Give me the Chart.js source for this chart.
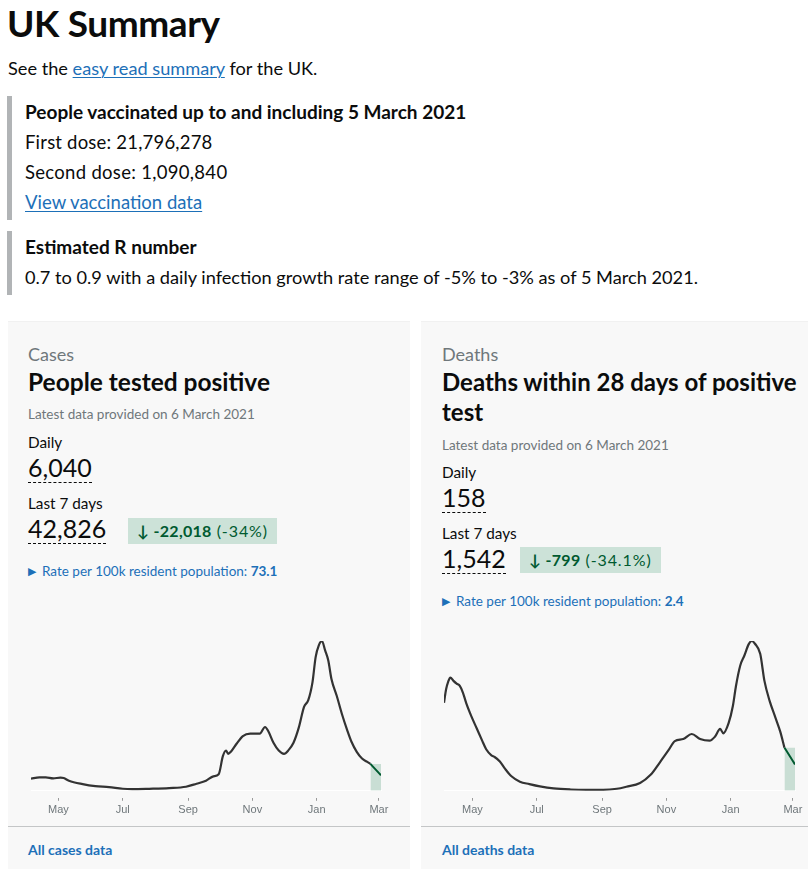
<!DOCTYPE html>
<html>
<head>
<meta charset="utf-8">
<script src="https://cdn.jsdelivr.net/npm/chart.js@4.4.0/dist/chart.umd.min.js"></script>
<style>
  html, body { margin:0; padding:0; background:#ffffff; width:808px; height:869px; overflow:hidden; }
  body { position:relative; font-family: "Lato", "Noto Sans", sans-serif; color:#0b0c0c; }
  .a { position:absolute; white-space:nowrap; }
  .bar { position:absolute; background:#b1b4b6; width:5px; }
  .card { position:absolute; top:321px; height:560px; background:#f8f8f8; border-top:1px solid #f1f1f1; }
  .sep { position:absolute; top:826px; height:1px; background:#c4c6c7; }
  .link { color:#1d70b8; text-decoration:underline; text-underline-offset:2px; text-decoration-thickness:1px; }
  .cap { font-size:18px; line-height:24px; color:#6f777b; }
  .ttl { font-size:24px; line-height:30px; font-weight:700; }
  .lat { font-size:13.5px; line-height:18px; color:#6f777b; }
  .lbl { font-size:15.3px; line-height:20px; }
  .num { font-size:25px; line-height:28px; padding-bottom:1px; border-bottom:1px dashed #0b0c0c; }
  .badge { position:absolute; background:#cce2d8; color:#005a30; font-size:16px; line-height:26px; height:26px; padding:0 9px; white-space:nowrap; letter-spacing:0.9px; }
  .badge b { font-weight:700; letter-spacing:0.3px; }
  .rate { font-size:13.5px; line-height:18px; color:#1d70b8; }
  .rate .tri { font-size:11px; margin-right:6px; position:relative; top:-1px; }
  .all { font-size:14px; line-height:18px; font-weight:700; color:#1d70b8; }
  canvas { position:absolute; }
</style>
</head>
<body>
  <div class="a" style="left:7px; top:1px; font-size:37px; line-height:44px; font-weight:700; letter-spacing:-0.4px;">UK Summary</div>
  <div class="a" style="left:8px; top:56px; font-size:18.2px; line-height:24px;">See the <span class="link">easy read summary</span> for the UK.</div>

  <div class="bar" style="left:7px; top:96px; height:124px;"></div>
  <div class="a" style="left:25px; top:100px; font-size:19px; line-height:24px; font-weight:700;">People vaccinated up to and including 5 March 2021</div>
  <div class="a" style="left:25px; top:130px; font-size:18.5px; line-height:24px; letter-spacing:0.2px;">First dose: 21,796,278</div>
  <div class="a" style="left:25px; top:160px; font-size:18.5px; line-height:24px; letter-spacing:0.3px;">Second dose: 1,090,840</div>
  <div class="a link" style="left:25px; top:190px; font-size:18.5px; line-height:24px;">View vaccination data</div>

  <div class="bar" style="left:7px; top:231px; height:64px;"></div>
  <div class="a" style="left:25px; top:235px; font-size:19px; line-height:24px; font-weight:700;">Estimated R number</div>
  <div class="a" style="left:25px; top:265px; font-size:18.2px; line-height:24px;">0.7 to 0.9 with a daily infection growth rate range of -5% to -3% as of 5 March 2021.</div>

  <!-- Cases card -->
  <div class="card" style="left:8px; width:402px;"></div>
  <div class="a cap" style="left:28px; top:342px;">Cases</div>
  <div class="a ttl" style="left:28px; top:367px; font-size:24.5px;">People tested positive</div>
  <div class="a lat" style="left:28px; top:405px;">Latest data provided on 6 March 2021</div>
  <div class="a lbl" style="left:28px; top:432px;">Daily</div>
  <div class="a num" style="left:28px; top:453px;">6,040</div>
  <div class="a lbl" style="left:28px; top:493px;">Last 7 days</div>
  <div class="a num" style="left:28px; top:514px;">42,826</div>
  <div class="badge" style="left:128px; top:518px;"><b>↓ -22,018</b> (-34%)</div>
  <div class="a rate" style="left:28px; top:562px;"><span class="tri">▶</span>Rate per 100k resident population: <b>73.1</b></div>
  <canvas id="casesChart" width="402" height="200" style="left:8px; top:620px; width:402px; height:200px;"></canvas>
  <div class="sep" style="left:8px; width:402px;"></div>
  <div class="a all" style="left:28px; top:841px;">All cases data</div>

  <!-- Deaths card -->
  <div class="card" style="left:421px; width:400px;"></div>
  <div class="a cap" style="left:442px; top:342px;">Deaths</div>
  <div class="a ttl" style="left:442px; top:367px;">Deaths within 28 days of positive<br>test</div>
  <div class="a lat" style="left:442px; top:436px;">Latest data provided on 6 March 2021</div>
  <div class="a lbl" style="left:442px; top:462px;">Daily</div>
  <div class="a num" style="left:442px; top:483px;">158</div>
  <div class="a lbl" style="left:442px; top:523px;">Last 7 days</div>
  <div class="a num" style="left:442px; top:544px;">1,542</div>
  <div class="badge" style="left:520px; top:547px;"><b>↓ -799</b> (-34.1%)</div>
  <div class="a rate" style="left:442px; top:592px;"><span class="tri">▶</span>Rate per 100k resident population: <b>2.4</b></div>
  <canvas id="deathsChart" width="387" height="200" style="left:421px; top:620px; width:387px; height:200px;"></canvas>
  <div class="sep" style="left:421px; width:400px;"></div>
  <div class="a all" style="left:442px; top:841px;">All deaths data</div>

<script>
// ---- Data (7-day averages) ----
const tickDates  = ["2020-05-01","2020-07-01","2020-09-01","2020-11-01","2021-01-01","2021-03-01"];
const tickLabels = ["May","Jul","Sep","Nov","Jan","Mar"];

const casesDates = ["2020-04-05","2020-04-13","2020-04-19","2020-04-26","2020-05-03","2020-05-06","2020-05-11","2020-05-24","2020-06-05","2020-06-18","2020-07-01","2020-07-10","2020-07-26","2020-08-14","2020-08-30","2020-09-09","2020-09-18","2020-09-25","2020-09-30","2020-10-04","2020-10-07","2020-10-09","2020-10-12","2020-10-17","2020-10-23","2020-10-30","2020-11-08","2020-11-13","2020-11-16","2020-11-21","2020-11-26","2020-12-01","2020-12-05","2020-12-10","2020-12-15","2020-12-20","2020-12-24","2020-12-28","2020-12-31","2021-01-03","2021-01-06","2021-01-09","2021-01-12","2021-01-15","2021-01-20","2021-01-25","2021-01-30","2021-02-03","2021-02-08","2021-02-13","2021-02-18","2021-02-21","2021-02-26","2021-03-03"];
const casesValues = [4840,5380,5380,4980,5250,5110,4040,2690,1880,1480,810,670,810,1080,1610,2830,4040,5790,6590,13860,16140,14800,15870,18830,21930,22870,22870,25560,23950,19240,16140,14800,16140,19240,25290,33630,36320,43450,53540,58250,60000,56230,52200,44800,38070,30670,24220,19640,15610,12920,11570,10760,8480,6190];
const casesIncompleteFrom = "2021-02-21";

const deathsDates = ["2020-04-04","2020-04-06","2020-04-08","2020-04-10","2020-04-13","2020-04-16","2020-04-19","2020-04-22","2020-04-25","2020-04-30","2020-05-05","2020-05-10","2020-05-14","2020-05-19","2020-05-22","2020-05-27","2020-06-01","2020-06-07","2020-06-15","2020-06-24","2020-07-04","2020-07-17","2020-08-02","2020-08-17","2020-09-02","2020-09-15","2020-09-24","2020-10-07","2020-10-17","2020-10-26","2020-11-03","2020-11-09","2020-11-17","2020-11-25","2020-12-03","2020-12-12","2020-12-17","2020-12-22","2020-12-25","2020-12-30","2021-01-03","2021-01-06","2021-01-10","2021-01-14","2021-01-18","2021-01-21","2021-01-24","2021-01-29","2021-02-02","2021-02-07","2021-02-12","2021-02-17","2021-02-21","2021-02-26","2021-03-03"];
const deathsValues = [734,847,911,945,917,894,875,818,734,621,522,423,347,296,282,245,183,121,76,56,37,20,11,8,8,17,34,65,133,240,339,415,432,474,432,418,451,516,480,564,705,875,1044,1129,1222,1250,1227,1143,917,748,621,494,360,290,220];
const deathsIncompleteFrom = "2021-02-21";

// ---- helpers ----
function dayNum(s) {
  const p = s.split("-").map(Number);
  return Date.UTC(p[0], p[1] - 1, p[2]) / 86400000;
}
const tickMap = {};
tickDates.forEach((d, i) => { tickMap[dayNum(d)] = tickLabels[i]; });

function makeChart(id, dates, values, incompleteFrom, pad) {
  const pts = dates.map((d, i) => ({ x: dayNum(d), y: values[i] }));
  const k = dates.indexOf(incompleteFrom);
  const mainPts = pts.slice(0, k + 1);
  const incPts = pts.slice(k);
  const shade = [{ x: pts[k].x, y: pts[k].y }, { x: pts[pts.length - 1].x, y: pts[k].y }];
  const peak = Math.max.apply(null, values);

  return new Chart(document.getElementById(id), {
    type: 'line',
    data: {
      datasets: [
        { data: incPts, borderColor: '#005a30', borderWidth: 2, pointRadius: 0, fill: false, cubicInterpolationMode: 'monotone', order: 0 },
        { data: mainPts, borderColor: '#333333', borderWidth: 2.2, pointRadius: 0, fill: false, cubicInterpolationMode: 'monotone', order: 1 },
        { data: shade, borderWidth: 0, borderColor: 'rgba(0,0,0,0)', backgroundColor: 'rgba(0,112,60,0.19)', pointRadius: 0, fill: 'origin', order: 2 }
      ]
    },
    options: {
      responsive: false,
      animation: false,
      devicePixelRatio: 1,
      layout: { padding: pad },
      plugins: { legend: { display: false }, tooltip: { enabled: false } },
      scales: {
        x: {
          type: 'linear',
          min: pts[0].x,
          max: pts[pts.length - 1].x,
          border: { display: true, color: '#ffffff', width: 1 },
          grid: { drawOnChartArea: false, drawTicks: true, tickLength: 10, tickColor: '#9a9a9a', tickWidth: 1, tickBorderDash: [0, 7, 3, 20] },
          afterBuildTicks: (scale) => { scale.ticks = tickDates.map(d => ({ value: dayNum(d) })); },
          ticks: {
            autoSkip: false, maxRotation: 0, padding: 3,
            color: '#6f777b',
            font: { family: 'Liberation Sans', size: 11 },
            callback: (v) => tickMap[v] || ''
          }
        },
        y: { display: false, min: 0, max: peak }
      }
    }
  });
}

makeChart('casesChart', casesDates, casesValues, casesIncompleteFrom, { left: 23, right: 29, top: 21, bottom: 0 });
makeChart('deathsChart', deathsDates, deathsValues, deathsIncompleteFrom, { left: 23, right: 13, top: 21, bottom: 0 });
</script>
</body>
</html>
